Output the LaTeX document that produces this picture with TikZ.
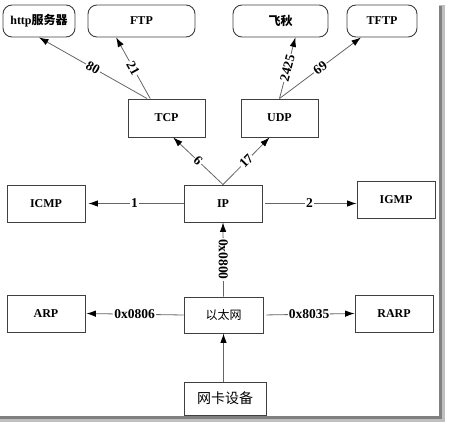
\documentclass[tikz,border=0pt]{standalone}
\usepackage{fontspec}
\setmainfont{Liberation Serif}
\newfontfamily\cjk{Noto Sans CJK SC}
\usetikzlibrary{arrows.meta}

\tikzset{
  box/.style={draw=black!75, line width=0.9pt, fill=white, inner sep=0pt,
    font=\fontsize{12}{14}\selectfont\bfseries},
  proto/.style={box, minimum width=78pt, minimum height=37pt},
  app/.style={box, rounded corners=9pt, minimum height=32pt},
  link/.style={draw=black!60, line width=0.8pt, -{Latex[length=9.5pt,width=6.5pt,color=black]}},
  lbl/.style={fill=white, inner sep=1pt, text=black,
    font=\fontsize{13.5}{14}\selectfont\bfseries},
}

\begin{document}
\begin{tikzpicture}[x=1pt,y=-1pt]
      \useasboundingbox (0,0) rectangle (451,428);
      % shadow
      \fill[black!25] (439,5) rectangle (445,422);
      \fill[black!25] (0,416) rectangle (445,422);
      \fill[black!50] (439,6) rectangle (442,419);
      \fill[black!50] (0,416) rectangle (442,419);

      \node[app, minimum width=72pt] (http) at (39,21) {http{\cjk 服务器}};
      \node[app, minimum width=107pt] (ftp) at (141.5,21) {FTP};
      \node[app, minimum width=95pt] (feiq) at (280.5,21) {\cjk 飞秋};
      \node[app, minimum width=70pt] (tftp) at (382,21) {TFTP};

      \node[proto, minimum width=77pt, minimum height=38pt] (tcp) at (166.5,118) {TCP};
      \node[proto, minimum width=77pt, minimum height=38pt] (udp) at (279.5,118) {UDP};

      \node[proto] (icmp) at (46,203.5) {ICMP};
      \node[proto] (ip) at (223,203.5) {IP};
      \node[proto] (igmp) at (396,199.5) {IGMP};

      \node[proto] (arp) at (46,313.5) {ARP};
      \node[proto, minimum width=79pt, minimum height=36pt] (eth) at (223.5,315)
        {\cjk\mdseries 以太网};
      \node[proto] (rarp) at (394,313.5) {RARP};

      \node[proto, minimum width=82pt, minimum height=33pt] (nic) at (225,398.5)
        {\cjk\mdseries\fontsize{14}{16}\selectfont 网卡设备};

      \draw[link] (tcp.135) -- (http.south) node[lbl, midway, sloped] {80};
      \draw[link] (tcp.130) -- (ftp.-147) node[lbl, midway, sloped] {21};
      \draw[link] (udp.north) -- (feiq.-48) node[lbl, midway, sloped] {2425};
      \draw[link] (udp.north) -- (tftp.-142) node[lbl, midway, sloped] {69};

      \draw[link] (ip.north) -- (tcp.-71) node[lbl, midway, sloped] {6};
      \draw[link] (ip.north) -- (udp.-117) node[lbl, midway, sloped] {17};
      \draw[link, shorten >=3pt] (ip.west) -- (icmp.east) node[lbl, midway] {1};
      \draw[link, shorten <=3pt] (ip.east) -- (ip.east -| igmp.west) node[lbl, midway] {2};

      \draw[link] (eth.north) -- (ip.south) node[lbl, midway, rotate=-90] {0x0800};
      \draw[link, shorten >=1pt] (eth.west) -- (arp.east) node[lbl, midway] {0x0806};
      \draw[link, shorten <=3pt] (eth.east) -- (rarp.west) node[lbl, midway] {0x8035};
      \draw[link] (nic.north -| eth.south) -- (eth.south);
\end{tikzpicture}
\end{document}
